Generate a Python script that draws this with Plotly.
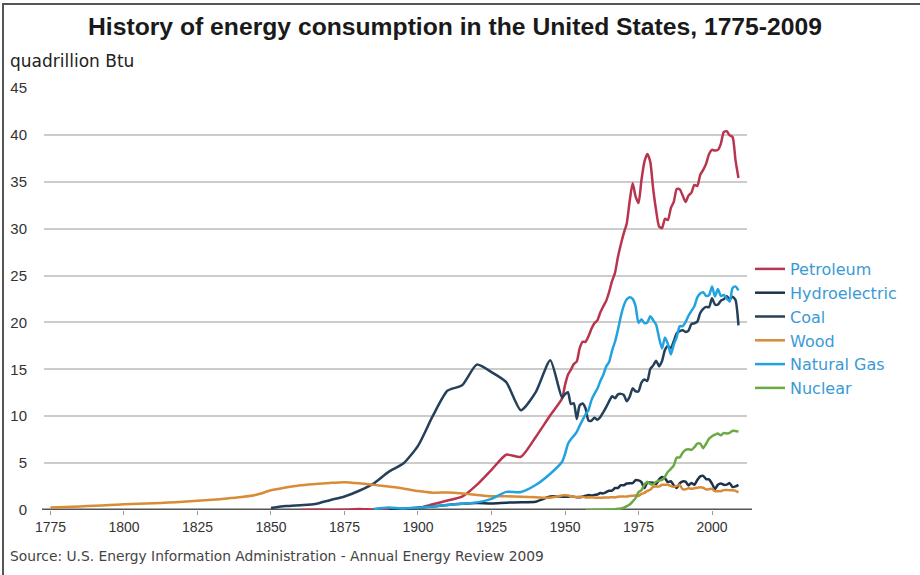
import plotly.graph_objects as go

# ---------------- data ----------------
years_early = list(range(1775, 1950, 5))          # 1775 ... 1945 (5-year steps)
years_annual = list(range(1949, 2010))            # 1949 ... 2009

N = None
petroleum_early = [N]*17 + [0.003, 0.02, 0.011, 0.021, 0.096, 0.04, 0.156, 0.168, 0.229, 0.610,
                            1.007, 1.418, 2.676, 4.280, 5.897, 5.675, 7.760, 10.110]
petroleum_annual = [11.883, 13.315, 14.428, 14.956, 15.556, 15.839, 17.255, 17.937, 17.932, 18.527, 19.323,
                    19.919, 20.216, 21.049, 21.701, 22.301, 23.246, 24.401, 25.284, 26.979, 28.338,
                    29.521, 30.561, 32.947, 34.840, 33.455, 32.731, 35.175, 37.122, 37.965, 37.123,
                    34.202, 31.931, 30.232, 30.054, 31.051, 30.922, 32.196, 32.865, 34.222, 34.211,
                    33.553, 32.845, 33.527, 33.841, 34.670, 34.553, 35.757, 36.266, 36.934, 37.960,
                    38.404, 38.333, 38.401, 39.047, 40.294, 40.388, 39.955, 39.774, 37.280, 35.403]

hydro_early = [N]*23 + [0.022, 0.085, 0.250, 0.386, 0.539, 0.659, 0.738, 0.701, 0.785, 0.831, 0.880, 1.442]
hydro_annual = [1.425, 1.415, 1.424, 1.466, 1.413, 1.360, 1.360, 1.435, 1.516, 1.592, 1.548,
                1.608, 1.656, 1.816, 1.772, 1.907, 2.059, 2.062, 2.347, 2.349, 2.648,
                2.634, 2.824, 2.864, 2.861, 3.177, 3.155, 2.976, 2.333, 2.937, 2.931,
                2.900, 2.758, 3.266, 3.527, 3.386, 2.970, 3.071, 2.635, 2.334, 2.837,
                3.046, 3.016, 2.617, 2.892, 2.683, 3.205, 3.590, 3.640, 3.297, 3.268,
                2.811, 2.242, 2.689, 2.825, 2.690, 2.703, 2.869, 2.446, 2.511, 2.682]

coal_early = [N]*15 + [0.219, 0.421, 0.518, 0.632, 1.048, 1.440, 2.054, 2.840, 4.062, 4.950,
                       6.841, 10.001, 12.714, 13.294, 15.504, 14.706, 13.639, 10.634, 12.535, 15.972]
coal_annual = [11.981, 12.347, 12.553, 11.306, 11.373, 9.715, 11.167, 11.350, 10.821, 9.533, 9.518,
               9.838, 9.623, 9.906, 10.413, 10.964, 11.581, 12.143, 11.914, 12.331, 12.382,
               12.265, 11.598, 12.077, 12.971, 12.663, 12.663, 13.584, 13.922, 13.766, 15.040,
               15.423, 15.908, 15.322, 15.894, 17.071, 17.478, 17.260, 18.008, 18.846, 19.070,
               19.173, 18.992, 19.122, 19.835, 19.909, 20.089, 21.002, 21.445, 21.656, 21.623,
               22.580, 21.914, 21.904, 22.321, 22.466, 22.797, 22.447, 22.749, 22.385, 19.692]

wood_early = [0.27, 0.32, 0.38, 0.45, 0.53, 0.60, 0.66, 0.72, 0.80, 0.88, 0.98, 1.10, 1.22, 1.38,
              1.62, 2.10, 2.40, 2.64, 2.77, 2.89, 2.97, 2.85, 2.68, 2.50, 2.30, 2.02, 1.85, 1.86,
              1.77, 1.61, 1.46, 1.46, 1.42, 1.36, 1.30]
wood_annual = [1.549, 1.562, 1.535, 1.474, 1.419, 1.394, 1.424, 1.416, 1.334, 1.323, 1.353,
               1.320, 1.295, 1.300, 1.323, 1.337, 1.335, 1.369, 1.340, 1.419, 1.440,
               1.429, 1.430, 1.503, 1.527, 1.538, 1.497, 1.711, 1.837, 2.038, 2.152,
               2.474, 2.496, 2.510, 2.684, 2.686, 2.687, 2.562, 2.463, 2.577, 2.680,
               2.216, 2.214, 2.313, 2.260, 2.324, 2.370, 2.437, 2.371, 2.184, 2.214,
               2.262, 2.006, 1.995, 2.002, 2.121, 2.136, 2.109, 2.098, 2.044, 1.881]

gas_early = [N]*22 + [0.10, 0.257, 0.147, 0.252, 0.372, 0.540, 0.673, 0.813, 1.191, 1.932, 1.919,
                      2.665, 3.871]
gas_annual = [5.145, 5.968, 7.049, 7.550, 7.907, 8.330, 8.998, 9.614, 10.191, 10.663, 11.717,
              12.385, 12.926, 13.731, 14.403, 15.288, 15.769, 16.995, 17.945, 19.210, 20.678,
              21.795, 22.469, 22.698, 22.512, 21.732, 19.948, 20.345, 19.931, 20.000, 20.666,
              20.235, 19.747, 18.356, 17.221, 18.394, 17.703, 16.591, 17.640, 18.448, 19.602,
              19.603, 20.033, 20.714, 21.229, 21.728, 22.671, 23.085, 23.223, 22.830, 22.909,
              23.824, 22.773, 23.558, 22.831, 22.923, 22.565, 22.239, 23.663, 23.843, 23.416]

nuclear_early = [N]*35
nuclear_annual = [N]*8 + [0.000, 0.002, 0.002, 0.006, 0.020, 0.026, 0.038, 0.040, 0.043, 0.064,
                          0.088, 0.142, 0.154, 0.239, 0.413, 0.584, 0.910, 1.272, 1.900, 2.111,
                          2.702, 3.024, 2.776, 2.739, 3.008, 3.131, 3.203, 3.553, 4.076, 4.380,
                          4.754, 5.587, 5.602, 6.104, 6.422, 6.479, 6.410, 6.694, 7.075, 7.087,
                          6.597, 7.068, 7.610, 7.862, 8.029, 8.145, 7.959, 8.222, 8.161, 8.215,
                          8.455, 8.427, 8.356]

series_names = ["Petroleum", "Hydroelectric", "Coal", "Wood", "Natural Gas", "Nuclear"]
x_ticks = [1775, 1800, 1825, 1850, 1875, 1900, 1925, 1950, 1975, 2000]
y_ticks = [0, 5, 10, 15, 20, 25, 30, 35, 40, 45]

# ---------------- figure ----------------
years = years_early + years_annual
series = [
    (petroleum_early + petroleum_annual, "#b8344f"),
    (hydro_early + hydro_annual, "#1c3349"),
    (coal_early + coal_annual, "#24405a"),
    (wood_early + wood_annual, "#d98b35"),
    (gas_early + gas_annual, "#22a3df"),
    (nuclear_early + nuclear_annual, "#6aa944"),
]

fig = go.Figure()
for name, (vals, color) in zip(series_names, series):
    fig.add_trace(go.Scatter(x=years, y=vals, mode="lines", name=name,
                             line=dict(color=color, width=2.5, shape="spline", smoothing=0.6),
                             connectgaps=False))

L, R, T, B = 44, 173, 88, 65
W, H = 920, 575
pw, ph = W - L - R, H - T - B

def px_x(p):
    return (p - L) / pw

def px_y(p):
    return (H - B - p) / ph

WIDE = "DejaVu Sans, Verdana, sans-serif"

fig.update_layout(
    width=W, height=H,
    margin=dict(l=L, r=R, t=T, b=B, autoexpand=False),
    paper_bgcolor="white", plot_bgcolor="white",
    font=dict(family="Liberation Sans, Arial, sans-serif", color="#333333", size=14),
    title=dict(text="<b>History of energy consumption in the United States, 1775-2009</b>",
               x=455 / W, xanchor="center", y=1 - 26 / H, yanchor="middle",
               font=dict(size=24.7, color="#1a1a1a")),
    showlegend=True,
    legend=dict(x=px_x(750), xanchor="left", y=px_y(252), yanchor="top",
                font=dict(size=16, color="#3a9ad6", family=WIDE),
                bgcolor="rgba(0,0,0,0)", tracegroupgap=0, itemwidth=30),
    xaxis=dict(range=[1772.8, 2011.9], tickmode="array", tickvals=x_ticks,
               ticktext=[str(t) for t in x_ticks], showgrid=False, zeroline=False,
               showline=False, ticks="outside", ticklen=4, tickcolor="#9a9a9a",
               tickfont=dict(size=14, color="#333333")),
    yaxis=dict(range=[0, 45], tickmode="array", tickvals=y_ticks,
               ticktext=[str(t) for t in y_ticks], showgrid=True, gridcolor="#cccccc",
               gridwidth=2, zeroline=False, showline=False, ticks="outside", ticklen=13,
               tickcolor="rgba(0,0,0,0)", tickfont=dict(size=15, color="#333333")),
    annotations=[
        dict(text="quadrillion Btu", xref="paper", yref="paper", x=px_x(8), y=px_y(61),
             xanchor="left", yanchor="middle", showarrow=False,
             font=dict(size=17, color="#222222", family=WIDE)),
        dict(text="Source: U.S. Energy Information Administration - Annual Energy Review 2009",
             xref="paper", yref="paper", x=px_x(8), y=px_y(556), xanchor="left",
             yanchor="middle", showarrow=False, font=dict(size=13.8, color="#444444", family=WIDE)),
    ],
    shapes=[
        dict(type="line", xref="paper", yref="y", x0=px_x(42), x1=px_x(752), y0=0, y1=0,
             line=dict(color="#555555", width=3), layer="below"),
        dict(type="line", xref="paper", yref="paper", x0=px_x(3), x1=px_x(3),
             y0=px_y(3), y1=px_y(575), line=dict(color="#555555", width=2)),
        dict(type="line", xref="paper", yref="paper", x0=px_x(3), x1=px_x(920),
             y0=px_y(4), y1=px_y(4), line=dict(color="#555555", width=2)),
    ],
)

fig.write_html("out.html", config={"displayModeBar": False},
               post_script="document.body.style.margin='0px';")
